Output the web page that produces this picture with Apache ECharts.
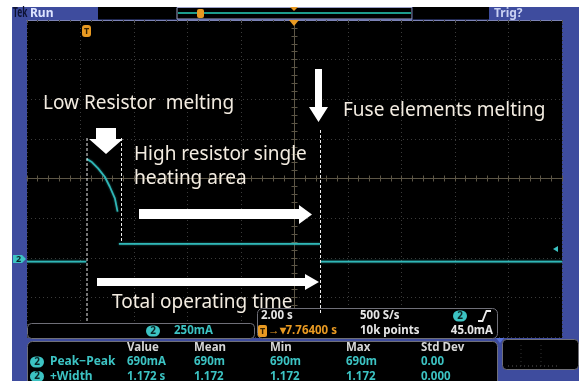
<!DOCTYPE html>
<html><head><meta charset="utf-8">
<script src="https://cdn.jsdelivr.net/npm/echarts@6/dist/echarts.min.js"></script>
<style>html,body{margin:0;padding:0;background:#fff}#c{width:579px;height:381px}</style>
</head><body><div id="c"></div>
<script>
// ---- data read from the scope capture ----
// time in seconds relative to trigger point, current in mA (null = break in trace)
const timeS     = [-2.236, -0.02, 0, 0, 0.17, 0.42, 0.67, 0.86, 1.05, 1.15, 1.17, 1.20, 8.72, 8.73, 8.75, 17.764];
const currentMA = [0, 0, null, 648, 631, 589, 536, 473, 400, 316, null, 112, 112, null, 0, 0];
const timeWindow = [-2.236, 17.764];      // 2.00 s/div x 10 div, trigger delay 7.764 s
const currentWindow = [-475, 1525];       // 250 mA/div x 8 div
const gratX = [-5, 5];                    // graticule divisions
const gratY = [-4, 4];
const measHeaders = ['Value', 'Mean', 'Min', 'Max', 'Std Dev'];
const measNames = ['Peak\u2212Peak', '+Width'];
const measRows = [['690mA', '690m', '690m', '690m', '0.00'], ['1.172 s', '1.172', '1.172', '1.172', '0.000']];
const annotations = ['Low Resistor  melting', 'High resistor single', 'heating area', 'Fuse elements melting', 'Total operating time'];

const BLUE = '#3e4c9e', TEAL = '#3cc3c3', ORANGE = '#e99a22', GREY = '#6f6f78';
const chart = echarts.init(document.getElementById('c'), null, {renderer: 'canvas'});

function T(text, x, y, o) {
  return {type: 'text', z: 90, style: Object.assign({text: text, x: x, y: y, fill: '#e6e6e6',
    font: 'bold 11.5px "Noto Sans"', textAlign: 'left', textVerticalAlign: 'middle', align: 'left', verticalAlign: 'middle'}, o || {})};
}
function R(x, y, w, h, fill, stroke, r, z) {
  return {type: 'rect', z: z == null ? 70 : z, shape: {x: x, y: y, width: w, height: h, r: r || 0},
    style: {fill: fill, stroke: stroke || null, lineWidth: 1}};
}
function P(pts, fill, z) { return {type: 'polygon', z: z || 80, shape: {points: pts}, style: {fill: fill}}; }
function L(x1, y1, x2, y2, stroke, w, dash, z) {
  return {type: 'line', z: z || 80, shape: {x1: x1, y1: y1, x2: x2, y2: y2},
    style: {stroke: stroke, lineWidth: w || 1, lineDash: dash || null}};
}
function badge(cx, cy) {
  return [R(cx - 7, cy - 5.5, 14, 11, TEAL, null, 5.5, 85),
          T('2', cx, cy, {fill: '#0b2626', textAlign: 'center', align: 'center', font: 'bold 10px "Noto Sans"'})];
}

const big = {fill: '#f3ece1', font: '19px "Noto Sans"', z: 90};
const tekLabel = T('Tek', 0, 13.5, {fill: '#0d1233', font: 'bold 13.5px "Noto Sans"'});
tekLabel.x = 13; tekLabel.scaleX = 0.62;

const elements = [
  // frame
  R(12, 7, 567, 374, BLUE, null, 0, -10),
  R(27, 20, 535, 318, '#000', null, 0, -9),
  // top bar
  tekLabel,
  T('Run', 30, 13.5, {fill: '#dfe5ff', font: 'bold 12px "Noto Sans"'}),
  R(98, 7, 79, 12.5, '#000', null, 0, 5),
  R(177, 7.5, 235, 11.5, '#000', '#9aa0c8', 0, 5),
  L(178, 13, 411, 13, '#1c9c8c', 2, null, 6),
  R(197, 9, 7, 9, ORANGE, null, 2, 7),
  P([[290, 7], [298, 7], [294, 11]], ORANGE, 7),
  R(412.5, 7, 76.5, 12.5, '#000', null, 0, 5),
  T('Trig?', 494, 13.5, {fill: '#c9d1f2', font: 'bold 12px "Noto Sans"'}),
  // markers on graticule
  R(82, 25, 9, 12, ORANGE, null, 3, 20),
  T('T', 86.5, 31, {fill: '#3a2400', textAlign: 'center', align: 'center', font: 'bold 9px "Noto Sans"', z: 21}),
  P([[289, 20], [299, 20], [294, 26]], ORANGE, 20),
  P([[13, 255], [22, 255], [26, 259], [22, 263], [13, 263]], TEAL, 20),
  T('2', 18.5, 259, {fill: '#0b2626', textAlign: 'center', align: 'center', font: 'bold 9px "Noto Sans"', z: 21}),
  P([[553, 249], [558, 246], [558, 252]], TEAL, 20),
  // dashed annotation lines
  L(87, 138, 87, 323, '#ececec', 1, [3, 2]),
  L(121.5, 138, 121.5, 243, '#ececec', 1, [3, 2]),
  L(320.5, 130, 320.5, 313, '#ececec', 1, [3, 2]),
  // arrows
  P([[96, 128], [116, 128], [116, 139], [123, 139], [106, 154], [89, 139], [96, 139]], '#ffffff'),
  P([[315, 69], [322, 69], [322, 107], [328, 107], [318.5, 122], [309, 107], [315, 107]], '#ffffff'),
  P([[139, 209], [299, 209], [299, 205], [312, 214.5], [299, 224], [299, 219], [139, 219]], '#ffffff'),
  P([[97, 278], [305, 278], [305, 274], [319, 282], [305, 290], [305, 286], [97, 286]], '#ffffff'),
  // annotation texts
  T(annotations[0], 43, 104, big),
  T(annotations[1], 134, 155, big),
  T(annotations[2], 134, 179, big),
  T(annotations[3], 343, 111, big),
  T(annotations[4], 112, 303, big),
  // channel scale box
  R(27.5, 323.5, 227, 15, '#000', GREY, 4, 70),
  ...badge(153, 331),
  T('250mA', 174, 331, {fill: TEAL}),
  // timebase box
  R(257.5, 308.5, 240, 30, '#000', GREY, 5, 70),
  T('2.00 s', 261, 316, {fill: '#e6e6e6'}),
  T('500 S/s', 360, 316),
  ...badge(460, 316),
  {type: 'polyline', z: 90, shape: {points: [[478, 321], [482.5, 321], [486.5, 311], [491, 311]]}, style: {stroke: '#ececec', lineWidth: 1.8, fill: null}},
  R(258, 325, 9, 12, ORANGE, null, 2, 85),
  T('T', 262.5, 331, {fill: '#3a2400', textAlign: 'center', align: 'center', font: 'bold 9px "Noto Sans"'}),
  T('\u2192\u25BE7.76400 s', 268, 331, {fill: ORANGE}),
  T('10k points', 360, 331),
  T('45.0mA', 493, 331, {textAlign: 'right', align: 'right'}),
  // right mini box
  R(502.5, 339.5, 76, 30, '#000', GREY, 4, 70),
  L(508, 366, 560, 366, '#555', 1, [1, 3], 75),
  L(521, 345, 521, 366, '#333', 1, [1, 3], 75),
  L(541, 345, 541, 366, '#333', 1, [1, 3], 75),
  P([[496, 338], [504, 338], [500, 343]], '#5670d8', 75),
  // measurement panel
  R(27.5, 341.5, 470, 48, '#000', GREY, 5, 70)
];
const colX = [127, 194, 270, 346, 421];
measHeaders.forEach((h, i) => elements.push(T(h, colX[i], 348, {fill: '#d6d6d6'})));
measNames.forEach((n, r) => {
  const cy = 362 + r * 14.5;
  elements.push(...badge(37, cy));
  elements.push(T(n, 50, cy, {fill: TEAL, font: 'bold 12px "Noto Sans"'}));
  measRows[r].forEach((v, i) => elements.push(T(v, colX[i], cy, {fill: TEAL})));
});

const tickCol = '#5d5646';
function gratAxis(extra) {
  return Object.assign({type: 'value', gridIndex: 0, min: gratX[0], max: gratX[1], interval: 1,
    axisLabel: {show: false}, splitLine: {show: false},
    axisLine: {show: true, onZero: true, onZeroAxisIndex: 0, lineStyle: {color: tickCol, width: 1}},
    axisTick: {show: true, length: 3, lineStyle: {color: tickCol}},
    minorTick: {show: true, splitNumber: 5, length: 3, lineStyle: {color: tickCol}}}, extra);
}

chart.setOption({
  animation: false,
  backgroundColor: 'transparent',
  grid: [{left: 27, top: 20, width: 535, height: 317, show: false}],
  xAxis: [
    gratAxis({position: 'bottom', splitLine: {show: true, lineStyle: {color: '#3b3b3b', type: [1, 3]}}}),
    gratAxis({position: 'top'}),
    gratAxis({position: 'top', axisLine: {show: true, onZero: false, lineStyle: {color: '#7c83b6'}},
      axisTick: {show: true, inside: true, length: 3, lineStyle: {color: '#555'}},
      minorTick: {show: true, splitNumber: 5, length: 2, lineStyle: {color: '#444'}}}),
    {type: 'value', gridIndex: 0, min: timeWindow[0], max: timeWindow[1], show: false, axisLine: {onZero: false}}
  ],
  yAxis: [
    gratAxis({position: 'left', min: gratY[0], max: gratY[1], splitLine: {show: true, lineStyle: {color: '#3b3b3b', type: [1, 3]}}}),
    gratAxis({position: 'right', min: gratY[0], max: gratY[1]}),
    {type: 'value', gridIndex: 0, min: currentWindow[0], max: currentWindow[1], show: false, axisLine: {onZero: false}}
  ],
  series: [{
    type: 'line', xAxisIndex: 3, yAxisIndex: 2, z: 10,
    data: timeS.map((t, i) => [t, currentMA[i]]),
    showSymbol: false, connectNulls: false, silent: true,
    lineStyle: {color: '#2fb7b7', width: 1.7, shadowColor: 'rgba(60,200,200,0.6)', shadowBlur: 2}
  }],
  graphic: {elements: elements}
});
</script></body></html>
